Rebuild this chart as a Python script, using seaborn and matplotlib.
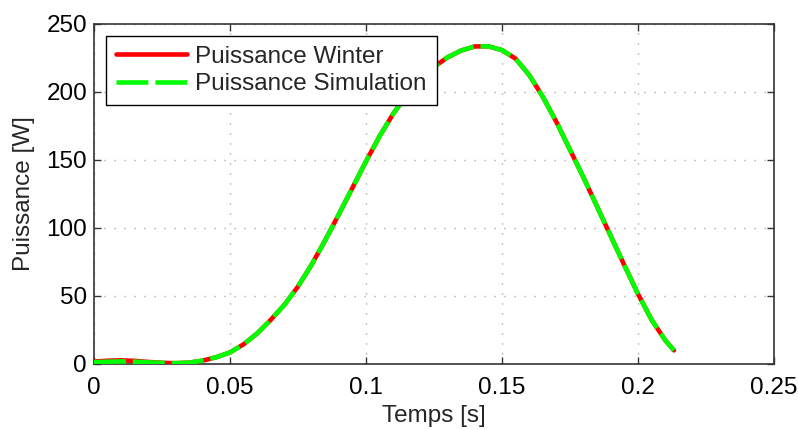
import matplotlib
matplotlib.use("Agg")
import matplotlib.pyplot as plt
import pandas as pd
import seaborn as sns

# Power over one cycle (time in seconds, power in watts)
temps = [0.000, 0.005, 0.010, 0.015, 0.020, 0.025, 0.030, 0.035, 0.040, 0.045,
         0.050, 0.055, 0.060, 0.065, 0.070, 0.075, 0.080, 0.085, 0.090, 0.095,
         0.100, 0.105, 0.110, 0.115, 0.120, 0.125, 0.130, 0.135, 0.140, 0.145,
         0.150, 0.155, 0.160, 0.165, 0.170, 0.175, 0.180, 0.185, 0.190, 0.195,
         0.200, 0.205, 0.210, 0.2132]
puissance_winter = [1.8, 2.4, 2.7, 2.3, 1.5, 0.9, 0.6, 1.0, 2.5, 5.0,
                    8.5, 14.5, 22.5, 32.5, 43.5, 57.0, 73.0, 91.0, 110.0, 129.5,
                    149.0, 167.5, 184.0, 198.0, 209.5, 218.5, 225.5, 230.5, 233.5, 233.6,
                    230.8, 224.5, 212.5, 196.5, 178.0, 157.5, 137.0, 115.5, 94.0, 72.5,
                    51.5, 32.5, 17.5, 10.0]
puissance_simulation = [1.3, 1.7, 1.9, 1.7, 1.2, 0.8, 0.6, 1.0, 2.5, 5.0,
                        8.5, 14.5, 22.5, 32.5, 43.5, 57.0, 73.0, 91.0, 110.0, 129.5,
                        149.0, 167.5, 184.0, 198.0, 209.5, 218.5, 225.5, 230.5, 233.5, 233.6,
                        230.8, 224.5, 212.5, 196.5, 178.0, 157.5, 137.0, 115.5, 94.0, 72.5,
                        51.5, 32.5, 17.5, 10.0]

x_ticks = [0, 0.05, 0.1, 0.15, 0.2, 0.25]
x_tick_labels = ["0", "0.05", "0.1", "0.15", "0.2", "0.25"]
y_ticks = [0, 50, 100, 150, 200, 250]
y_tick_labels = ["0", "50", "100", "150", "200", "250"]

sns.set_style("white")
plt.rcParams["font.family"] = ["Liberation Sans", "DejaVu Sans"]
plt.rcParams["lines.scale_dashes"] = False

df = pd.DataFrame({"t": temps, "winter": puissance_winter, "sim": puissance_simulation})

FS = 17.5

fig = plt.figure(figsize=(7.98, 4.30), dpi=100)
ax = fig.add_axes([94 / 798, 66 / 430, 680 / 798, 340 / 430])

sns.lineplot(data=df, x="t", y="winter", ax=ax, color="#ff0000", linewidth=3.3,
             label="Puissance Winter", zorder=3)
sns.lineplot(data=df, x="t", y="sim", ax=ax, color="#00ff00", linewidth=3.3,
             label="Puissance Simulation", zorder=4)
for ln in ax.lines:
    ln.set_solid_joinstyle("round")
    ln.set_dash_joinstyle("round")
ax.lines[-1].set_dashes((23, 5))
ax.lines[-1].set_dash_capstyle("butt")

ax.set_xlim(0, 0.25)
ax.set_ylim(0, 250)
ax.set_xticks(x_ticks)
ax.set_xticklabels(x_tick_labels)
ax.set_yticks(y_ticks)
ax.set_yticklabels(y_tick_labels)

ax.grid(True, linestyle=(0, (0.8, 6.4)), color="#999999", linewidth=1.0)
ax.set_axisbelow(True)

for sp in ax.spines.values():
    sp.set_color("#333333")
    sp.set_linewidth(1.2)

ax.tick_params(direction="in", length=5, width=1.0, color="#333333",
               top=True, right=True, bottom=True, left=True,
               labelsize=FS, labelcolor="black")
ax.tick_params(axis="x", pad=9)
ax.tick_params(axis="y", pad=5)

ax.set_xlabel("Temps [s]", fontsize=FS, labelpad=5)
ax.set_ylabel("Puissance [W]", fontsize=FS, labelpad=8)

leg = ax.legend(loc="upper left", bbox_to_anchor=(12 / 680, 1 - 12 / 340),
                fontsize=FS, frameon=True, fancybox=False, framealpha=1,
                edgecolor="black", handlelength=2.95, handletextpad=0.33,
                borderpad=0.4, labelspacing=0.22, borderaxespad=0)
leg.get_frame().set_linewidth(1.0)

fig.savefig("out.png", dpi=100)
